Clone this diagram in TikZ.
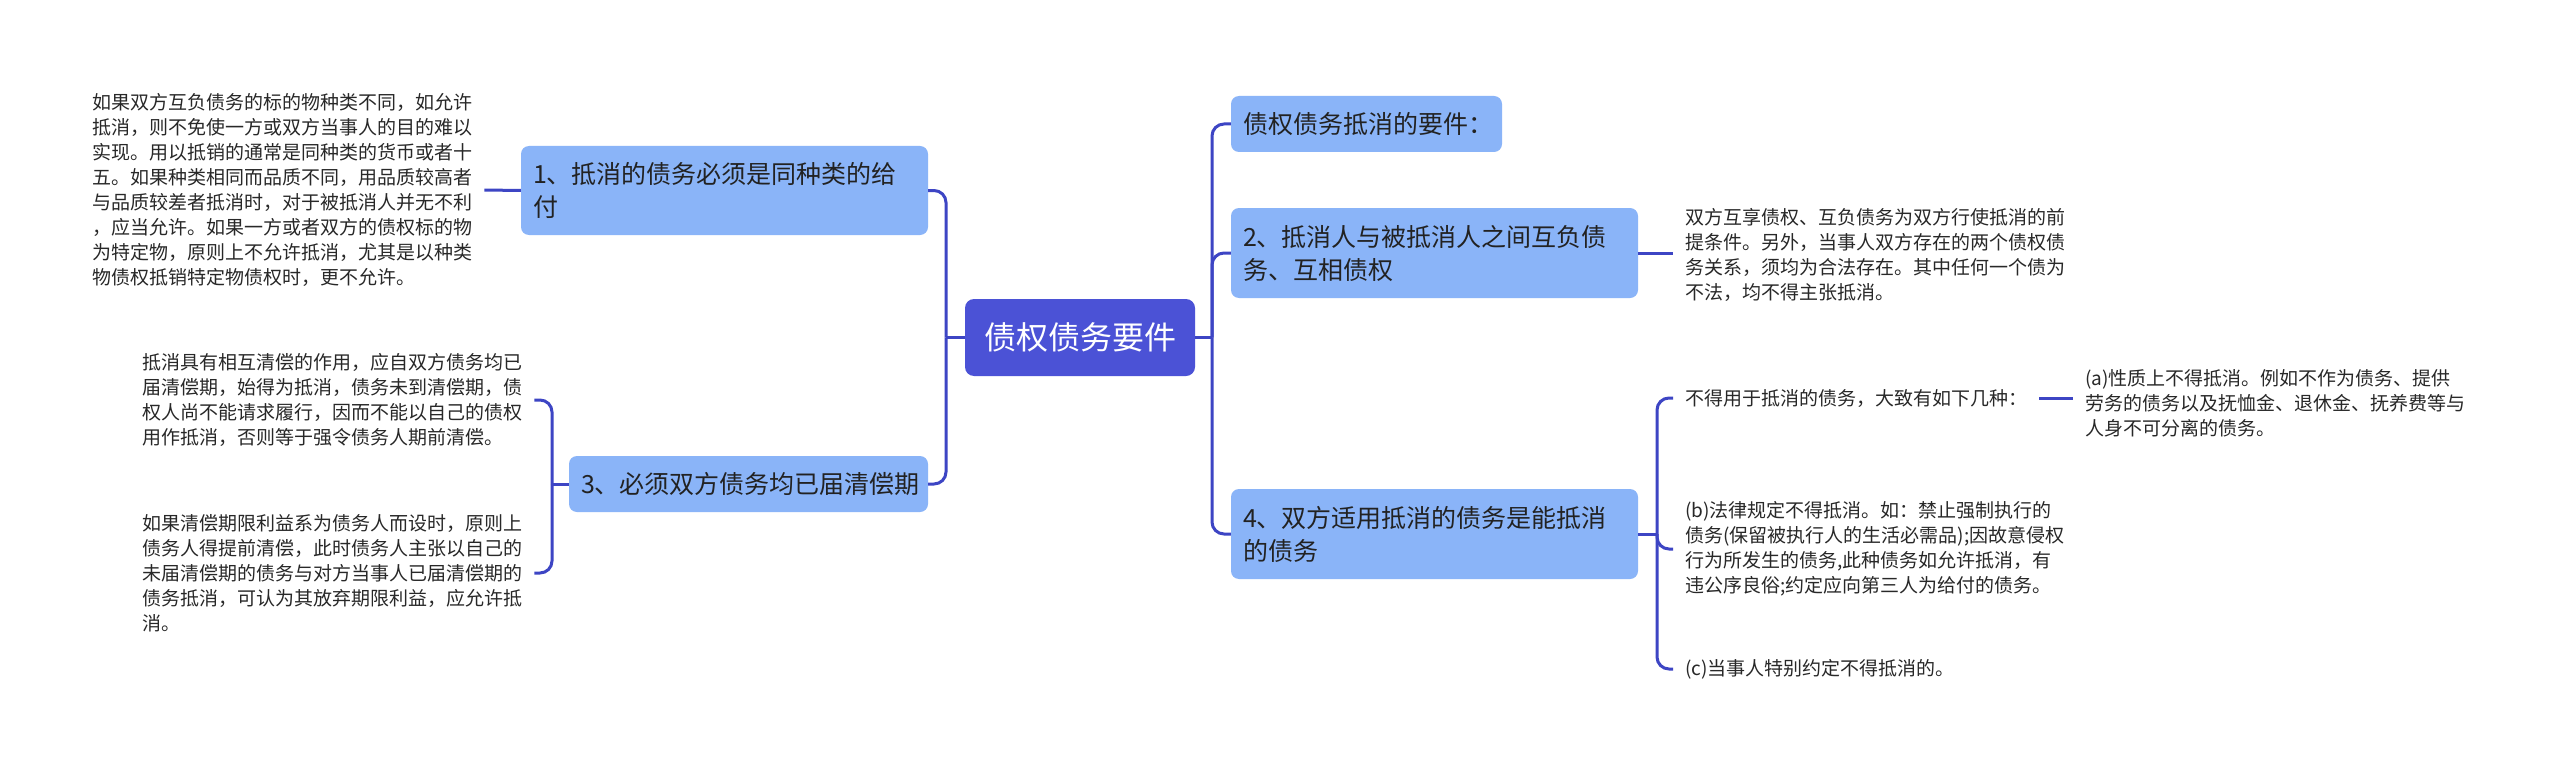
\documentclass[tikz,border=0pt]{standalone}
\usepackage{fontspec}
\setmainfont{Noto Sans CJK SC}
\definecolor{lc}{RGB}{61,69,196}
\definecolor{cfill}{RGB}{75,82,214}
\definecolor{sfill}{RGB}{138,180,248}
\definecolor{tcol}{RGB}{34,34,34}
\definecolor{lcol}{RGB}{40,40,40}
\begin{document}
\begin{tikzpicture}[x=1pt,y=-1pt,
  conn/.style={draw=lc,line width=3pt,rounded corners=12pt},
  topic/.style={fill=cfill,rounded corners=9pt,text=white,font=\fontsize{32}{38}\selectfont,minimum width=230pt,minimum height=77pt,inner sep=0pt},
  sub/.style={fill=sfill,rounded corners=8pt,text=tcol,font=\fontsize{25}{33}\selectfont,align=left,inner xsep=12pt,inner ysep=0pt},
  leaf/.style={text=lcol,font=\fontsize{19}{25}\selectfont,align=left,inner xsep=12pt,inner ysep=0pt,anchor=west}]
\fill[white] (0,0) rectangle (2560,773);
\useasboundingbox (0,0) rectangle (2560,773);

\node[topic] (C) at (1080,337.5) {债权债务要件};

\node[sub,text width=383pt,minimum height=89pt] (N1) at (724.5,190.5) {1、抵消的债务必须是同种类的给\\付};
\node[sub,text width=335pt,minimum height=56pt] (N3) at (748.5,484) {3、必须双方债务均已届清偿期};
\node[sub,text width=247pt,minimum height=56pt] (R0) at (1366.5,124) {债权债务抵消的要件：};
\node[sub,text width=383pt,minimum height=90pt] (N2) at (1434.5,253) {2、抵消人与被抵消人之间互负债\\务、互相债权};
\node[sub,text width=383pt,minimum height=90pt] (N4) at (1434.5,534) {4、双方适用抵消的债务是能抵消\\的债务};

\node[leaf] (L1) at (80,190) {如果双方互负债务的标的物种类不同，如允许\\抵消，则不免使一方或双方当事人的目的难以\\实现。用以抵销的通常是同种类的货币或者十\\五。如果种类相同而品质不同，用品质较高者\\与品质较差者抵消时，对于被抵消人并无不利\\，应当允许。如果一方或者双方的债权标的物\\为特定物，原则上不允许抵消，尤其是以种类\\物债权抵销特定物债权时，更不允许。};
\node[leaf] (L3a) at (130,400) {抵消具有相互清偿的作用，应自双方债务均已\\届清偿期，始得为抵消，债务未到清偿期，债\\权人尚不能请求履行，因而不能以自己的债权\\用作抵消，否则等于强令债务人期前清偿。};
\node[leaf] (L3b) at (130,573) {如果清偿期限利益系为债务人而设时，原则上\\债务人得提前清偿，此时债务人主张以自己的\\未届清偿期的债务与对方当事人已届清偿期的\\债务抵消，可认为其放弃期限利益，应允许抵\\消。};
\node[leaf] (L2) at (1673,255) {双方互享债权、互负债务为双方行使抵消的前\\提条件。另外，当事人双方存在的两个债权债\\务关系，须均为合法存在。其中任何一个债为\\不法，均不得主张抵消。};
\node[leaf] (L4a) at (1673,398) {不得用于抵消的债务，大致有如下几种：};
\node[leaf] (L4b) at (1673,549) {(b)法律规定不得抵消。如：禁止强制执行的\\债务(保留被执行人的生活必需品);因故意侵权\\行为所发生的债务,此种债务如允许抵消，有\\违公序良俗;约定应向第三人为给付的债务。};
\node[leaf] (L4c) at (1673,669) {(c)当事人特别约定不得抵消的。};
\node[leaf] (La) at (2073,403) {(a)性质上不得抵消。例如不作为债务、提供\\劳务的债务以及抚恤金、退休金、抚养费等与\\人身不可分离的债务。};

\coordinate (tl) at (946,337.5);
\coordinate (tr) at (1212,337.5);
\coordinate (t3) at (552,484);
\coordinate (t4) at (1657,534);

\draw[conn] (C.west) -- (tl);
\draw[conn] (tl) |- (N1.east);
\draw[conn] (tl) |- (N3.east);
\draw[conn] (N1.west) -- (L1.east);
\draw[conn] (N3.west) -- (t3);
\draw[conn] (t3) |- (L3a.east);
\draw[conn] (t3) |- (L3b.east);

\draw[conn] (C.east) -- (tr);
\draw[conn] (tr) |- (R0.west);
\draw[conn] (tr) |- (N2.west);
\draw[conn] (tr) |- (N4.west);
\draw[conn] (N2.east) -- (N2.east -| L2.west);
\draw[conn] (N4.east) -- (t4);
\draw[conn] (t4) |- (L4a.west);
\draw[conn] (t4) |- (L4b.west);
\draw[conn] (t4) |- (L4c.west);
\draw[conn] (L4a.east) -- (La.west |- L4a.east);
\end{tikzpicture}
\end{document}
